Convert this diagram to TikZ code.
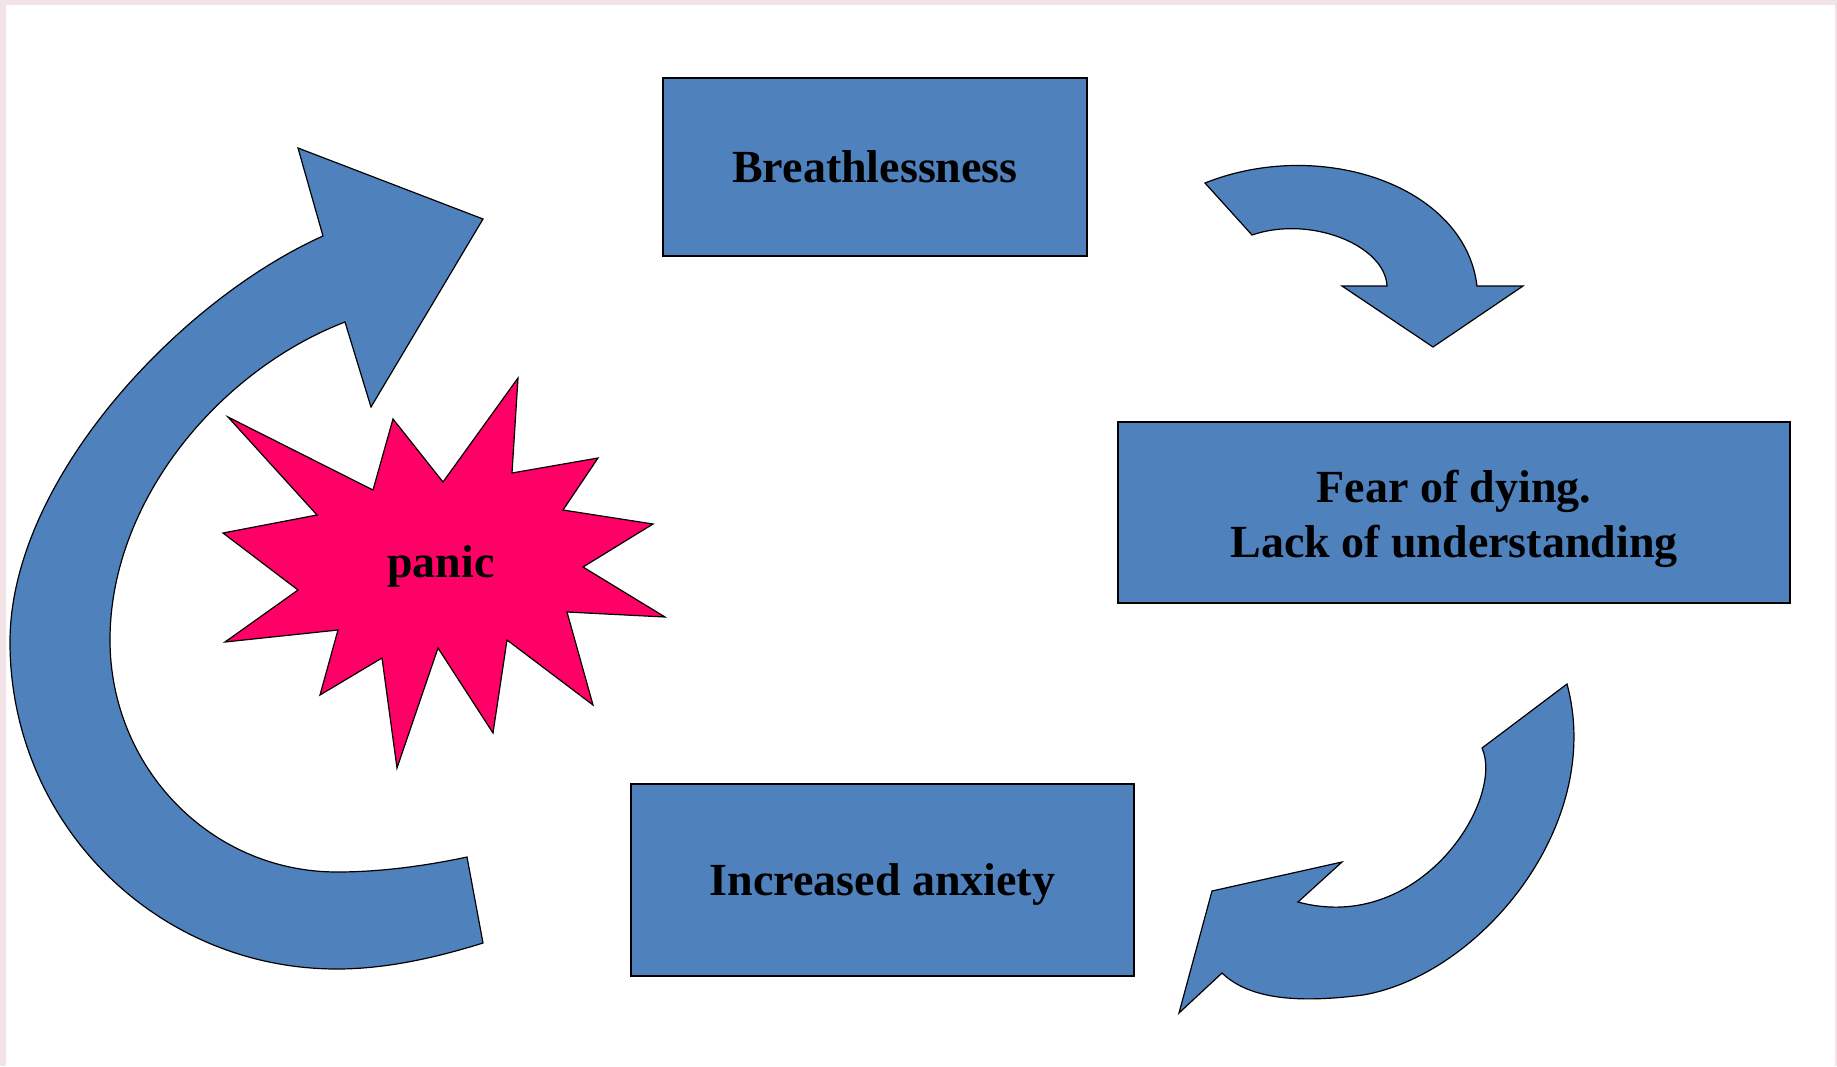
\documentclass[tikz,border=0pt]{standalone}
\usepackage{fontspec}
\setmainfont{Liberation Serif}
\usepackage{xcolor}
\definecolor{boxblue}{RGB}{79,129,189}
\definecolor{panicpink}{RGB}{255,0,102}
\definecolor{framepink}{RGB}{242,228,230}
\tikzset{
  cyclebox/.style={draw=black,line width=0.9pt,fill=boxblue,align=center,inner sep=0pt},
  bentarrow/.style={draw=black,line width=0.6pt,fill=boxblue,line join=miter},
}
\begin{document}
\begin{tikzpicture}[x=0.5pt,y=-0.5pt,font=\fontsize{23}{27.5}\selectfont\bfseries]
  \fill[framepink] (0,0) rectangle (1837,1066);
  \fill[white] (6,5) rectangle (1835,1066);
  \useasboundingbox (0,0) rectangle (1837,1066);

  \filldraw[bentarrow] (323,236) -- (298,148) -- (483,219) -- (371,407) -- (345,322)
    .. controls (220,370) and (110,500) .. (110,640)
    .. controls (110,767) and (210,872) .. (337,872)
    .. controls (380,872) and (425,866) .. (467,857)
    -- (483,943)
    .. controls (435,958) and (385,969) .. (337,969)
    .. controls (156,969) and (10,823) .. (10,642)
    .. controls (10,480) and (180,300) .. (323,236) -- cycle;

  \filldraw[draw=black,line width=0.6pt,fill=panicpink]
    (518,378) -- (512,473) -- (598,458) -- (563,510) -- (653,524) -- (583,567)
    -- (665,617) -- (567,612) -- (593,705) -- (507,640) -- (493,733) -- (438,648)
    -- (397,768) -- (382,658) -- (320,695) -- (338,630) -- (225,642) -- (298,590)
    -- (223,533) -- (317,515) -- (228,417) -- (373,490) -- (393,419) -- (443,482) -- cycle;
  \node[anchor=base] (panic) at (441,577) {panic};

  \node[cyclebox,minimum width=212pt,minimum height=89pt] (breath) at (875,167) {Breathlessness};
  \node[cyclebox,minimum width=336pt,minimum height=90.5pt] (fear) at (1454,512.5) {};
  \node[align=center,anchor=base] (feartext) at (1454,557) {Fear of dying.\\Lack of understanding};
  \node[cyclebox,minimum width=251.5pt,minimum height=96pt,text depth=0pt] (anxiety) at (882.5,880)
    {Increased anxiety};

  \filldraw[bentarrow] (1205,183) -- (1252,235)
    .. controls (1310,215) and (1385,245) .. (1387,286)
    -- (1342,286) -- (1433,347) -- (1523,286) -- (1477,286)
    .. controls (1465,185) and (1320,137) .. (1205,183) -- cycle;

  \filldraw[bentarrow] (1567,684) -- (1482,748)
    .. controls (1505,800) and (1420,935) .. (1298,902)
    -- (1342,862) -- (1212,891) -- (1179,1013) -- (1222,973)
    .. controls (1250,1000) and (1300,1003) .. (1363,995)
    .. controls (1480,975) and (1605,825) .. (1567,684) -- cycle;
\end{tikzpicture}
\end{document}
